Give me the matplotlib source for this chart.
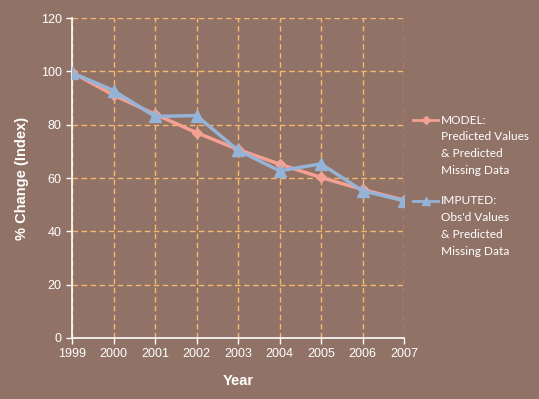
import matplotlib
matplotlib.use("Agg")
import matplotlib.pyplot as plt
from matplotlib.lines import Line2D

years = [1999, 2000, 2001, 2002, 2003, 2004, 2005, 2006, 2007]
model = [99.6, 91.1, 83.9, 77.0, 70.7, 65.2, 60.2, 55.7, 51.7]
imputed = [99.5, 92.8, 83.1, 83.4, 70.4, 62.7, 65.3, 55.2, 51.5]
yticks = [0, 20, 40, 60, 80, 100, 120]
labels = ["MODEL:\nPredicted Values\n& Predicted\nMissing Data",
          "IMPUTED:\nObs'd Values\n& Predicted\nMissing Data"]

plt.rcParams["font.family"] = ["Liberation Sans", "DejaVu Sans"]

bg = "#917266"
c_model = "#f4a092"
c_imp = "#95b3d7"
grid_c = "#f5b870"

W, H = 539, 399
fig = plt.figure(figsize=(W/100, H/100), dpi=100, facecolor=bg)
ax = fig.add_axes([72/W, 61/H, 332/W, 320/H], facecolor=bg)

ax.plot(years, model, color=c_model, lw=2.5, marker="D", ms=5, zorder=3)
ax.plot(years, imputed, color=c_imp, lw=2.5, marker="^", ms=8, zorder=4)

ax.set_xlim(years[0], years[-1])
ax.set_ylim(0, 120)
ax.set_xticks(years)
ax.set_yticks(yticks)
ax.grid(True, color=grid_c, ls=(0, (4, 2.5)), lw=1.0)
ax.set_axisbelow(True)
for s in ["top", "right"]:
    ax.spines[s].set_visible(False)
for s in ["left", "bottom"]:
    ax.spines[s].set_color("white")
    ax.spines[s].set_linewidth(1.2)
ax.tick_params(colors="white", labelsize=9, length=4, width=1)
for t in ax.get_xticklabels() + ax.get_yticklabels():
    t.set_color("white")
ax.set_xlabel("Year", color="white", fontsize=10.5, fontweight="bold", labelpad=10)
ax.set_ylabel("% Change (Index)", color="white", fontsize=10.5, fontweight="bold", labelpad=8)

# manual legend
entries = [(labels[0], c_model, "D", 4, 120), (labels[1], c_imp, "^", 6, 201)]
for text, col, mk, ms, ypx in entries:
    yf = 1 - ypx / H
    fig.add_artist(Line2D([413/W, 438/W], [yf, yf], color=col, lw=2,
                          transform=fig.transFigure))
    fig.add_artist(Line2D([425.5/W], [yf], color=col, marker=mk, ms=ms,
                          transform=fig.transFigure))
    for i, line in enumerate(text.split("\n")):
        fig.text(441/W, 1 - (ypx + i * 16.7) / H, line, color="white",
                 fontsize=8.6, family=["Lato", "DejaVu Sans"], va="center", ha="left")

fig.savefig("out.png", dpi=100, facecolor=bg)
